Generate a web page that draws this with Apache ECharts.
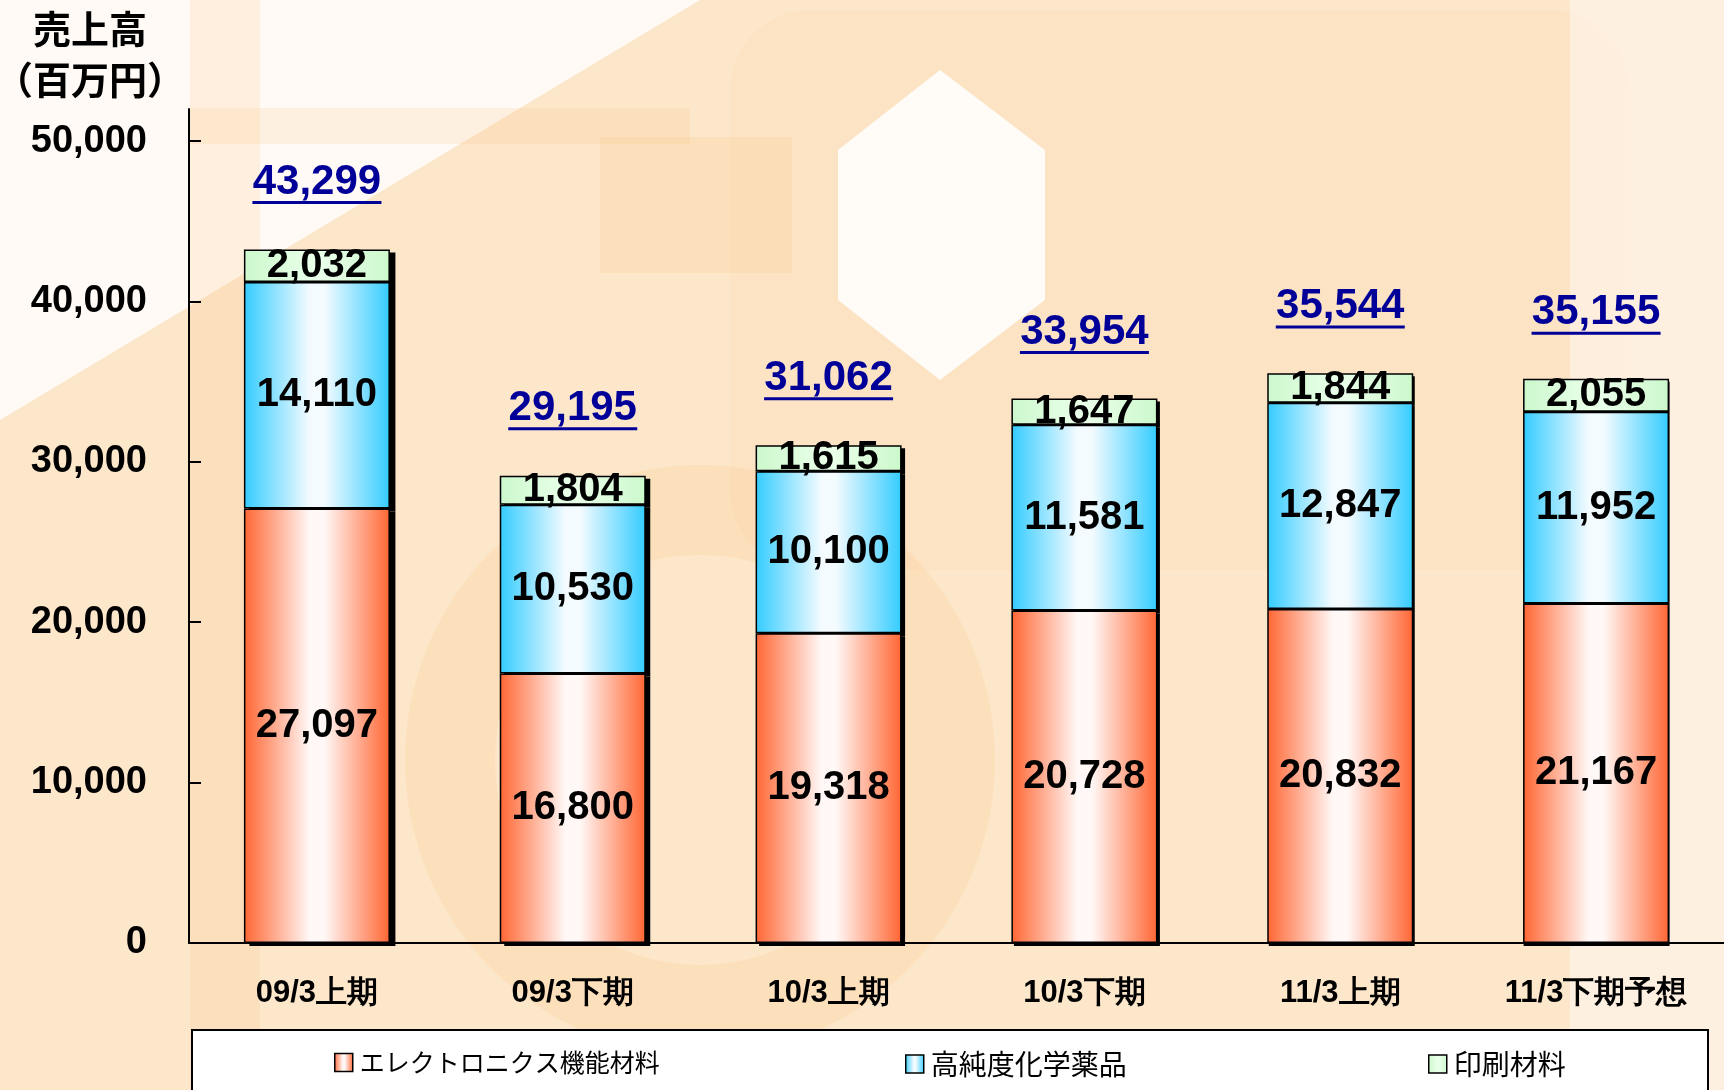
<!DOCTYPE html>
<html>
<head>
<meta charset="utf-8">
<style>
  html, body { margin: 0; padding: 0; }
  #chart { width: 1724px; height: 1090px; }
</style>
<script src="https://cdn.jsdelivr.net/npm/echarts@6/dist/echarts.min.js"></script>
</head>
<body>
<div id="chart"></div>
<script>
const categories = ['09/3上期', '09/3下期', '10/3上期', '10/3下期', '11/3上期', '11/3下期予想'];
const seriesNames = ['エレクトロニクス機能材料', '高純度化学薬品', '印刷材料'];
const electronics = [27097, 16800, 19318, 20728, 20832, 21167];
const chemicals = [14110, 10530, 10100, 11581, 12847, 11952];
const printing = [2032, 1804, 1615, 1647, 1844, 2055];
const totals = [43299, 29195, 31062, 33954, 35544, 35155];
const yTicks = [0, 10000, 20000, 30000, 40000, 50000];

const font = '"Liberation Sans", Arial, sans-serif';
const jpFont = '"Noto Sans CJK JP", sans-serif';

function hGrad(edge, mid) {
    return new echarts.graphic.LinearGradient(0, 0, 1, 0, [
        { offset: 0, color: edge },
        { offset: 0.45, color: mid },
        { offset: 0.55, color: mid },
        { offset: 1, color: edge }
    ]);
}

const fills = [
    hGrad('#ff6633', '#fff8f6'),
    hGrad('#33ccff', '#f4fbff'),
    hGrad('#ccf8cc', '#e8ffe8')
];

const chart = echarts.init(document.getElementById('chart'));

const segLabel = {
    show: true,
    position: 'inside',
    color: '#000',
    fontFamily: font,
    fontWeight: 'bold',
    fontSize: 40,
    formatter: p => p.value.toLocaleString('en')
};

const valueAxis = (gridIndex, show) => ({
    type: 'value',
    gridIndex: gridIndex,
    show: show,
    min: 0,
    max: 52000,
    splitLine: { show: false },
    axisLine: { show: true, lineStyle: { color: '#000', width: 2 } },
    axisTick: { show: true, inside: true, length: 12, customValues: yTicks, lineStyle: { color: '#000', width: 2 } },
    axisLabel: {
        customValues: yTicks,
        margin: 42,
        color: '#000',
        fontFamily: font,
        fontWeight: 'bold',
        fontSize: 38,
        formatter: v => v.toLocaleString('en')
    }
});

const mainSeries = [electronics, chemicals, printing].map((data, i) => ({
    name: seriesNames[i],
    type: 'bar',
    stack: 'total',
    barWidth: 146,
    z: 3,
    data: data,
    itemStyle: { color: fills[i], borderColor: '#000', borderWidth: 1.5 },
    label: segLabel,
    emphasis: { disabled: true }
}));

// black drop shadow behind each stacked bar, drawn in an offset grid
const shadowSeries = [electronics, chemicals, printing].map((data, i) => ({
    name: 'shadow' + i,
    type: 'bar',
    stack: 'shadow',
    xAxisIndex: 1,
    yAxisIndex: 1,
    barWidth: 146,
    z: 1,
    data: data,
    itemStyle: { color: '#000' },
    silent: true
}));

const legendAt = (name, left, size) => ({
    data: [name],
    left: left,
    top: 1045,
    icon: 'rect',
    itemWidth: 18,
    itemHeight: 18,
    itemGap: 10,
    selectedMode: false,
    itemStyle: { borderColor: '#000', borderWidth: 1.5 },
    textStyle: { color: '#000', fontFamily: jpFont, fontSize: size, padding: [0, 0, 0, 2] }
});

chart.setOption({
    backgroundColor: '#fde7cb',
    animation: false,
    title: {
        text: '売上高\n（百万円）',
        left: 85,
        top: -2,
        textAlign: 'center',
        textStyle: {
            color: '#000',
            fontFamily: jpFont,
            fontWeight: 'bold',
            fontSize: 38,
            lineHeight: 51,
            textShadowColor: 'rgba(0,0,0,0.25)',
            textShadowOffsetX: 2,
            textShadowOffsetY: 2
        }
    },
    graphic: [
        { type: 'polygon', z: -10, silent: true, shape: { points: [[0, 0], [700, 0], [0, 420]] }, style: { fill: 'rgba(255,255,255,0.8)' } },
        { type: 'rect', z: -10, silent: true, shape: { x: 190, y: 0, width: 70, height: 1090 }, style: { fill: 'rgba(250,200,140,0.22)' } },
        { type: 'rect', z: -10, silent: true, shape: { x: 190, y: 108, width: 500, height: 36 }, style: { fill: 'rgba(250,200,140,0.2)' } },
        { type: 'rect', z: -10, silent: true, shape: { x: 600, y: 137, width: 192, height: 136 }, style: { fill: 'rgba(250,200,140,0.25)' } },
        { type: 'rect', z: -10, silent: true, shape: { x: 730, y: 10, width: 900, height: 560, r: 80 }, style: { fill: 'rgba(252,215,170,0.2)' } },
        { type: 'polygon', z: -10, silent: true, shape: { points: [[940, 70], [1045, 150], [1045, 300], [940, 380], [838, 300], [838, 150]] }, style: { fill: 'rgba(255,255,255,0.85)' } },
        { type: 'circle', z: -10, silent: true, shape: { cx: 700, cy: 760, r: 250 }, style: { fill: 'none', stroke: 'rgba(250,195,130,0.22)', lineWidth: 90 } },
        { type: 'rect', z: -10, silent: true, shape: { x: 1570, y: 0, width: 154, height: 1090 }, style: { fill: 'rgba(255,250,245,0.5)' } },
        // legend frame
        { type: 'rect', z: 0, silent: true, shape: { x: 192, y: 1030, width: 1516, height: 80 }, style: { fill: '#fff', stroke: '#000', lineWidth: 2 } }
    ],
    legend: [
        legendAt(seriesNames[0], 329, 25),
        legendAt(seriesNames[1], 900, 28),
        legendAt(seriesNames[2], 1423, 28)
    ],
    grid: [
        { left: 189, right: -10, top: 109, bottom: 147 },
        { left: 195, right: -16, top: 112, bottom: 144 }
    ],
    xAxis: [
        {
            type: 'category',
            gridIndex: 0,
            data: categories,
            axisLine: { lineStyle: { color: '#000', width: 2 } },
            axisTick: { inside: true, length: 10, lineStyle: { color: '#000', width: 1.5 } },
            axisLabel: {
                margin: 35,
                color: '#000',
                fontFamily: font,
                fontWeight: 'bold',
                fontSize: 31
            }
        },
        { type: 'category', gridIndex: 1, data: categories, show: false }
    ],
    yAxis: [valueAxis(0, true), valueAxis(1, false)],
    series: [
        ...shadowSeries,
        ...mainSeries,
        {
            name: 'total',
            type: 'scatter',
            data: totals,
            symbolSize: 1,
            z: 4,
            itemStyle: { color: 'rgba(0,0,0,0)', opacity: 1 },
            label: {
                show: true,
                position: 'top',
                distance: 44,
                formatter: p => '{n|' + p.value.toLocaleString('en') + '}\n{u| }',
                rich: {
                    n: {
                        color: '#000099',
                        fontFamily: font,
                        fontWeight: 'bold',
                        fontSize: 42,
                        lineHeight: 38,
                        textShadowColor: 'rgba(0,0,0,0.3)',
                        textShadowOffsetX: 2,
                        textShadowOffsetY: 2
                    },
                    u: { width: 129, height: 3, lineHeight: 3, backgroundColor: '#000099' }
                }
            }
        }
    ]
});
</script>
</body>
</html>
